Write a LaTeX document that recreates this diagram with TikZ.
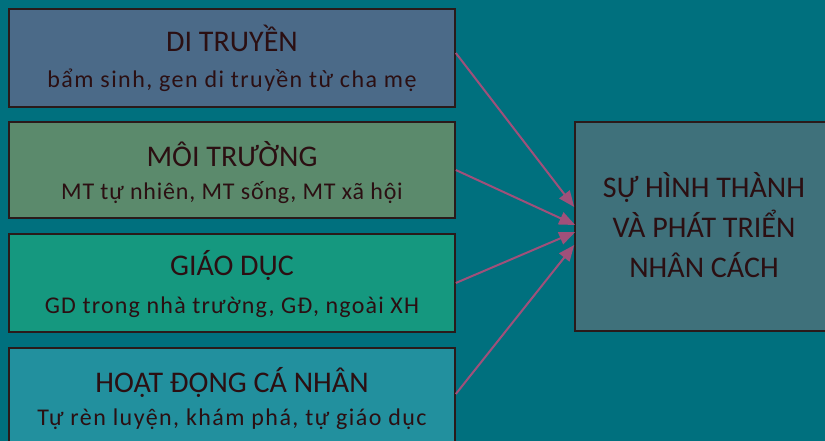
\documentclass[tikz,border=0pt]{standalone}
\usepackage{fontspec}
\setmainfont{Carlito}
\usetikzlibrary{arrows.meta,calc}
\definecolor{bgteal}{HTML}{00707E}
\definecolor{boxblue}{HTML}{4B6A88}
\definecolor{boxgreen}{HTML}{5B8A6C}
\definecolor{boxjade}{HTML}{15987F}
\definecolor{boxcyan}{HTML}{22909E}
\definecolor{goalfill}{HTML}{3F717B}
\definecolor{linkpink}{HTML}{A0507A}
\definecolor{inkdark}{HTML}{2B0F12}
\definecolor{edgedark}{HTML}{2A1A1A}
\newcommand\spaced[1]{\addfontfeature{LetterSpace=#1}}
\begin{document}
\begin{tikzpicture}[x=1pt,y=-1pt,
  factor/.style={draw=edgedark, line width=1.6pt, minimum width=446pt, minimum height=98pt, inner sep=0pt},
  headline/.style={anchor=base, text=inkdark, font=\fontsize{30}{32}\selectfont, inner sep=0pt},
  detail/.style={anchor=base, text=inkdark, font=\fontsize{24}{26}\selectfont, inner sep=0pt},
  goalbox/.style={draw=edgedark, line width=1.6pt, fill=goalfill, minimum width=258pt, minimum height=209pt, inner sep=0pt},
  link/.style={draw=linkpink, line width=2pt, -{Triangle[length=16pt,width=13pt]}}]
\fill[bgteal] (0,0) rectangle (825,441);
\useasboundingbox (0,0) rectangle (825,441);

% four factor boxes
\node[factor, fill=boxblue] (di) at (232,58) {};
\node[headline] (diT) at (232,52) {DI TRUYỀN};
\node[detail] (diS) at (232,88) {\spaced{6}bẩm sinh, gen di truyền từ cha mẹ};

\node[factor, fill=boxgreen, minimum height=96pt] (mt) at (232,170) {};
\node[headline] (mtT) at (232,167) {MÔI TRƯỜNG};
\node[detail] (mtS) at (232,200) {\spaced{3.4}MT tự nhiên, MT sống, MT xã hội};

\node[factor, fill=boxjade] (gd) at (232,283) {};
\node[headline] (gdT) at (232,275) {GIÁO DỤC};
\node[detail] (gdS) at (232,313) {\spaced{5}GD trong nhà trường, GĐ, ngoài XH};

\node[factor, fill=boxcyan] (hd) at (232,397) {};
\node[headline] (hdT) at (232,392) {HOẠT ĐỘNG CÁ NHÂN};
\node[detail] (hdS) at (232,425) {\spaced{6}Tự rèn luyện, khám phá, tự giáo dục};

% outcome box
\node[goalbox] (goal) at (704,226.5) {};
\node[headline] (g1) at (704,197) {SỰ HÌNH THÀNH};
\node[headline] (g2) at (704,237) {VÀ PHÁT TRIỂN};
\node[headline] (g3) at (704,277) {NHÂN CÁCH};

% influences
\draw[link] ($(di.east)+(0,-5)$) -- ($(goal.west)+(0,-19.5)$);
\draw[link] (mt.east) -- ($(goal.west)+(1,-1.5)$);
\draw[link] (gd.east) -- ($(goal.west)+(1,5.5)$);
\draw[link] ($(hd.east)+(0,-3)$) -- ($(goal.west)+(0,18.5)$);
\end{tikzpicture}
\end{document}
